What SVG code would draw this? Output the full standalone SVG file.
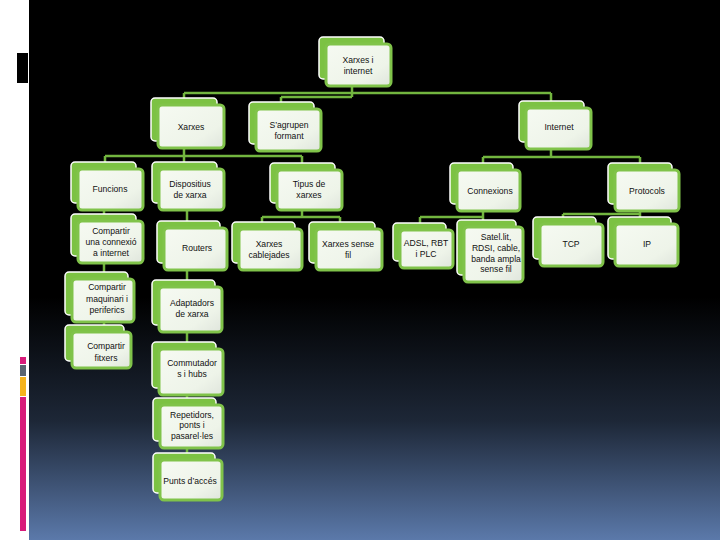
<svg xmlns="http://www.w3.org/2000/svg" width="720" height="540" viewBox="0 0 720 540">
<defs>
<linearGradient id="bg" x1="0" y1="0" x2="0" y2="1">
<stop offset="0" stop-color="#000"/>
<stop offset="0.55" stop-color="#000"/>
<stop offset="0.78" stop-color="#1d2737"/>
<stop offset="1" stop-color="#5b79aa"/>
</linearGradient>
<linearGradient id="card" x1="0" y1="0" x2="1" y2="1">
<stop offset="0" stop-color="#f6faf2"/>
<stop offset="0.7" stop-color="#eef4e9"/>
<stop offset="1" stop-color="#dfe5dc"/>
</linearGradient>
<style>
.back{fill:#7cc243;stroke:#ffffff;stroke-width:1.5}
.front{fill:url(#card);stroke:#80c34a;stroke-width:3}
.c{fill:none;stroke:#72b53f;stroke-width:2.5}
text{font-family:"Liberation Sans",Arial,sans-serif;font-size:8.6px;fill:#111;text-anchor:middle}
</style>
</defs>
<rect width="720" height="540" fill="#fff"/>
<rect x="29" y="0" width="691" height="540" fill="url(#bg)"/>
<rect x="17" y="53" width="11" height="30" fill="#000"/>
<rect x="20" y="357" width="6" height="7" fill="#d81b7a"/>
<rect x="20" y="365" width="6" height="11" fill="#5a6470"/>
<rect x="20" y="377" width="6" height="19" fill="#f5b31c"/>
<rect x="20" y="397" width="6" height="134" fill="#d81b7a"/>
<g id="connectors">
<path class="c" d="M352 86V97M184 93H551M184 93V99M551 93V101M281 97H352M281 97V103"/>
<path class="c" d="M184 148V156M105 156H302M105 156V163M184 156V163M302 156V164"/>
<path class="c" d="M551 149V157M483 157H640M483 157V164M640 157V164"/>
<path class="c" d="M104 210V326"/>
<path class="c" d="M187 210V454"/>
<path class="c" d="M302 210V217M262 217H340M262 217V223M340 217V223"/>
<path class="c" d="M483 211V221M420 217H483M420 217V224"/>
<path class="c" d="M640 211V218M563 214H640M563 214V218"/>
</g>
<g id="n1"><rect class="back" x="319" y="37" width="65" height="42" rx="4"/><rect class="front" x="326" y="44" width="65" height="42" rx="4"/><text x="358" y="63">Xarxes i</text><text x="358" y="74">internet</text></g>
<g id="n2"><rect class="back" x="151" y="98" width="66" height="43" rx="4"/><rect class="front" x="158" y="105" width="66" height="43" rx="4"/><text x="191" y="130">Xarxes</text></g>
<g id="n3"><rect class="back" x="249" y="102" width="65" height="42" rx="4"/><rect class="front" x="256" y="109" width="65" height="42" rx="4"/><text x="289" y="128">S’agrupen</text><text x="289" y="139">formant</text></g>
<g id="n4"><rect class="back" x="519" y="101" width="65" height="41" rx="4"/><rect class="front" x="526" y="108" width="65" height="41" rx="4"/><text x="559" y="130">Internet</text></g>
<g id="n5"><rect class="back" x="71" y="162" width="65" height="41" rx="4"/><rect class="front" x="78" y="169" width="65" height="41" rx="4"/><text x="110" y="192">Funcions</text></g>
<g id="n6"><rect class="back" x="152" y="162" width="65" height="41" rx="4"/><rect class="front" x="159" y="169" width="65" height="41" rx="4"/><text x="190" y="187">Dispositius</text><text x="190" y="198">de xarxa</text></g>
<g id="n7"><rect class="back" x="270" y="163" width="65" height="40" rx="4"/><rect class="front" x="277" y="170" width="65" height="40" rx="4"/><text x="309" y="187">Tipus de</text><text x="309" y="198">xarxes</text></g>
<g id="n8"><rect class="back" x="450" y="163" width="63" height="41" rx="4"/><rect class="front" x="457" y="170" width="63" height="41" rx="4"/><text x="490" y="194">Connexions</text></g>
<g id="n9"><rect class="back" x="608" y="163" width="64" height="41" rx="4"/><rect class="front" x="615" y="170" width="64" height="41" rx="4"/><text x="647" y="194">Protocols</text></g>
<g id="n10"><rect class="back" x="71" y="214" width="65" height="42" rx="4"/><rect class="front" x="78" y="221" width="65" height="42" rx="4"/><text x="111" y="234">Compartir</text><text x="111" y="245">una connexió</text><text x="111" y="256">a internet</text></g>
<g id="n11"><rect class="back" x="65" y="272" width="63" height="43" rx="4"/><rect class="front" x="72" y="279" width="62" height="43" rx="4"/><text x="107" y="290">Compartir</text><text x="107" y="302">maquinari i</text><text x="107" y="313">periferics</text></g>
<g id="n12"><rect class="back" x="65" y="325" width="59" height="36" rx="4"/><rect class="front" x="72" y="332" width="59" height="36" rx="4"/><text x="106" y="349">Compartir</text><text x="106" y="361">fitxers</text></g>
<g id="n13"><rect class="back" x="157" y="221" width="63" height="42" rx="4"/><rect class="front" x="164" y="228" width="63" height="42" rx="4"/><text x="197" y="251">Routers</text></g>
<g id="n14"><rect class="back" x="152" y="280" width="63" height="45" rx="4"/><rect class="front" x="159" y="287" width="63" height="45" rx="4"/><text x="192" y="306">Adaptadors</text><text x="192" y="317">de xarxa</text></g>
<g id="n15"><rect class="back" x="152" y="342" width="64" height="46" rx="4"/><rect class="front" x="159" y="349" width="64" height="46" rx="4"/><text x="192" y="366">Commutador</text><text x="192" y="377">s i hubs</text></g>
<g id="n16"><rect class="back" x="153" y="398" width="63" height="43" rx="4"/><rect class="front" x="160" y="405" width="63" height="43" rx="4"/><text x="192" y="418">Repetidors,</text><text x="192" y="428">ponts i</text><text x="192" y="439">pasarel·les</text></g>
<g id="n17"><rect class="back" x="153" y="453" width="62" height="40" rx="4"/><rect class="front" x="160" y="460" width="62" height="40" rx="4"/><text x="190" y="484">Punts d’accés</text></g>
<g id="n18"><rect class="back" x="232" y="222" width="63" height="41" rx="4"/><rect class="front" x="239" y="229" width="63" height="41" rx="4"/><text x="269" y="247">Xarxes</text><text x="269" y="258">cablejades</text></g>
<g id="n19"><rect class="back" x="309" y="222" width="66" height="41" rx="4"/><rect class="front" x="316" y="229" width="66" height="41" rx="4"/><text x="348" y="247">Xarxes sense</text><text x="348" y="258">fil</text></g>
<g id="n20"><rect class="back" x="393" y="223" width="53" height="38" rx="4"/><rect class="front" x="400" y="230" width="53" height="38" rx="4"/><text x="426" y="246">ADSL, RBT</text><text x="426" y="257">i PLC</text></g>
<g id="n21"><rect class="back" x="457" y="220" width="59" height="55" rx="4"/><rect class="front" x="464" y="227" width="59" height="55" rx="4"/><text x="496" y="240">Satel.lit,</text><text x="496" y="251">RDSI, cable,</text><text x="496" y="262">banda ampla</text><text x="496" y="272">sense fil</text></g>
<g id="n22"><rect class="back" x="533" y="217" width="63" height="42" rx="4"/><rect class="front" x="540" y="224" width="63" height="42" rx="4"/><text x="571" y="247">TCP</text></g>
<g id="n23"><rect class="back" x="608" y="217" width="63" height="42" rx="4"/><rect class="front" x="615" y="224" width="63" height="42" rx="4"/><text x="647" y="247">IP</text></g>
</svg>
